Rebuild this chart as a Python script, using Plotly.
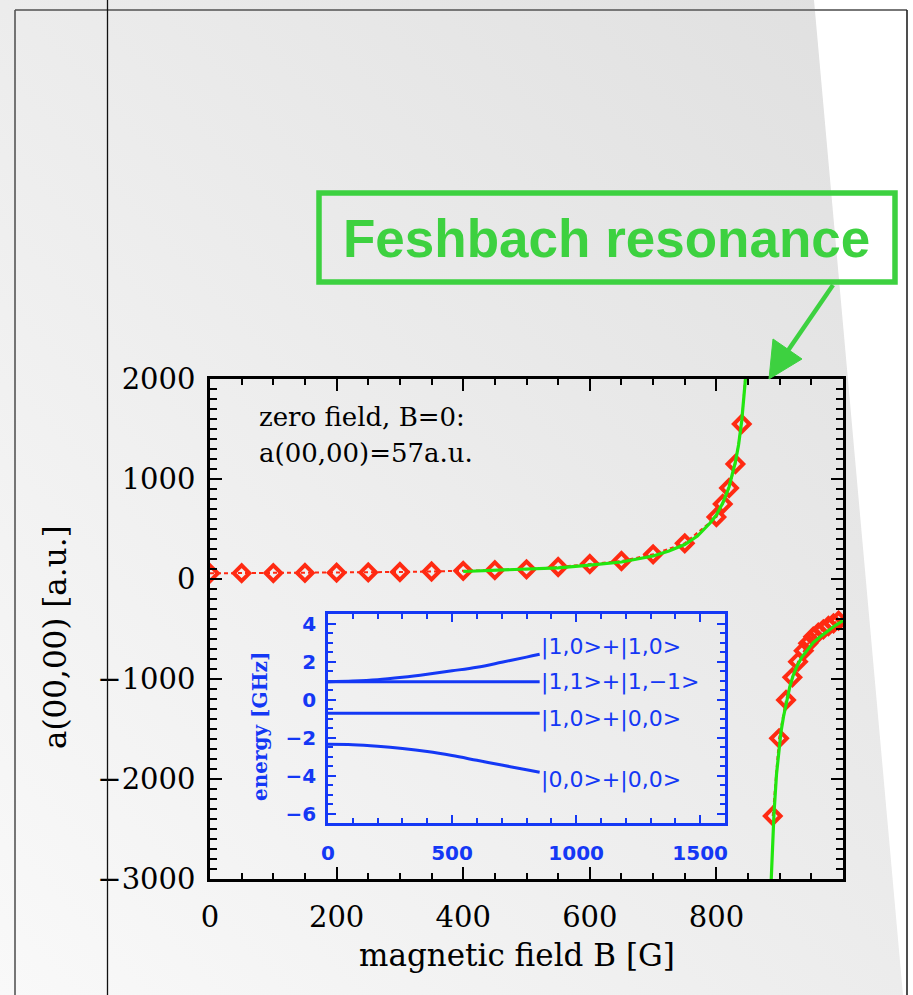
import base64
import plotly.graph_objects as go

W, H = 913, 995

# ---- scattering length a(00,00) vs magnetic field (coupled-channel points) ----
b_calc = [0, 50, 100, 150, 200, 250, 300, 350, 400, 450, 500, 550, 600, 650, 700,
          750, 800, 810, 820, 830, 840, 850, None,
          889, 899, 910, 920, 929, 938, 945, 953, 961, 969, 977, 985, 993]
a_calc = [57, 58, 59, 61, 63, 66, 70, 75, 82, 88, 97, 120, 150, 180, 247,
          357, 620, 750, 910, 1150, 1550, 2400, None,
          -2370, -1593, -1210, -983, -827, -717, -643, -577, -537, -503, -470, -443, -417]

# ---- resonance fit (both branches) ----
b_fit = [400, 450, 500, 550, 600, 650, 700, 725, 750, 770, 790, 800, 810, 820, 830,
         835, 840, 845, 848, None,
         886, 888, 891, 895, 898, 902, 906, 911, 916, 921, 927, 935, 943, 953, 964,
         975, 985, 1000]
a_fit = [75, 85, 95, 112, 138, 170, 230, 280, 345, 430, 560, 640, 760, 920, 1170,
         1340, 1580, 1900, 2150, None,
         -3100, -2700, -2343, -1950, -1743, -1530, -1377, -1210, -1077, -970, -877,
         -780, -710, -635, -577, -520, -477, -417]

# ---- inset: two-atom channel energies [GHz] vs B ----
b_levels = [0, 100, 200, 300, 400, 500, 600, 700, 800, 853]
e_10_10 = [0.94, 0.97, 1.04, 1.17, 1.33, 1.51, 1.70, 1.96, 2.23, 2.38]
e_11_1m1 = [0.94] * 10
e_10_00 = [-0.73] * 10
e_00_00 = [-2.36, -2.38, -2.46, -2.58, -2.74, -2.95, -3.20, -3.45, -3.70, -3.83]
level_names = ["|1,0>+|1,0>", "|1,1>+|1,−1>", "|1,0>+|0,0>", "|0,0>+|0,0>"]
level_label_y = [2.78, 0.9, -1.0, -4.25]

x_ticks = [0, 200, 400, 600, 800]
y_ticks = [-3000, -2000, -1000, 0, 1000, 2000]
inset_x_ticks = [0, 500, 1000, 1500]
inset_y_ticks = [-6, -4, -2, 0, 2, 4]

RED = "#ff2a12"
FIT = "#22e60f"
BLUE = "#1438f5"
GREEN = "#3dd140"
SERIF = "DejaVu Serif"


def px(x):
    return x / W


def py(y):
    return 1 - y / H


fig = go.Figure()

fig.add_trace(go.Scatter(
    x=b_calc, y=a_calc, mode="lines+markers", connectgaps=False,
    line=dict(color=RED, width=2, dash="4px,3px"),
    marker=dict(symbol="diamond-open", size=12, color=RED, line=dict(color=RED, width=4)),
    cliponaxis=True, xaxis="x", yaxis="y", showlegend=False))

fig.add_trace(go.Scatter(
    x=b_fit, y=a_fit, mode="lines", connectgaps=False,
    line=dict(color=FIT, width=3.2), xaxis="x", yaxis="y", showlegend=False))

for e in (e_10_10, e_11_1m1, e_10_00, e_00_00):
    fig.add_trace(go.Scatter(
        x=b_levels, y=e, mode="lines", line=dict(color=BLUE, width=3, shape="spline"),
        xaxis="x2", yaxis="y2", showlegend=False))

# page backdrop: soft diagonal grey with a white wedge on the right
svg = (
    f"<svg xmlns='http://www.w3.org/2000/svg' width='{W}' height='{H}' viewBox='0 0 {W} {H}' preserveAspectRatio='none'>"
    "<defs><linearGradient id='g' x1='1' y1='0' x2='0' y2='1'>"
    "<stop offset='0' stop-color='#dfdfdf'/><stop offset='1' stop-color='#f9f9f9'/>"
    "</linearGradient></defs>"
    f"<rect width='{W}' height='{H}' fill='url(#g)'/>"
    f"<polygon points='814,0 {W},0 {W},{H} 903,{H}' fill='#ffffff'/>"
    "</svg>"
)
bg_src = "data:image/svg+xml;base64," + base64.b64encode(svg.encode()).decode()

axis_common = dict(showline=True, linecolor="black", linewidth=2.5, mirror="ticks",
                   ticks="inside", tickcolor="black", tickwidth=2, ticklen=12,
                   showgrid=False, zeroline=False, automargin=False,
                   tickfont=dict(family=SERIF, size=29, color="black"))

inset_common = dict(showline=True, linecolor=BLUE, linewidth=2.5, mirror="ticks",
                    ticks="inside", tickcolor=BLUE, tickwidth=2, ticklen=8,
                    showgrid=False, zeroline=False, automargin=False,
                    tickfont=dict(family="DejaVu Sans", size=20, color=BLUE, weight="bold"))

fig.update_layout(
    width=W, height=H, margin=dict(l=0, r=0, t=0, b=0, pad=0, autoexpand=False),
    paper_bgcolor="white", plot_bgcolor="rgba(0,0,0,0)",
    images=[dict(source=bg_src, xref="paper", yref="paper", x=0, y=1, sizex=1, sizey=1,
                 xanchor="left", yanchor="top", sizing="stretch", layer="below")],
    xaxis=dict(domain=[px(210), px(843)], range=[0, 1000], tickmode="array",
               tickvals=x_ticks, ticklabelstandoff=10,
               minor=dict(ticks="inside", dtick=50, tick0=0, ticklen=6, tickwidth=1.5,
                          tickcolor="black"),
               anchor="y", **axis_common),
    yaxis=dict(domain=[py(879), py(379)], range=[-3000, 2000], tickmode="array",
               tickvals=y_ticks, ticklabelstandoff=6,
               minor=dict(ticks="inside", dtick=100, tick0=0, ticklen=7, tickwidth=1.5,
                          tickcolor="black"),
               anchor="x", **axis_common),
    xaxis2=dict(domain=[px(328), px(725)], range=[0, 1600], tickmode="array",
                tickvals=inset_x_ticks, ticklabelstandoff=10,
                minor=dict(ticks="inside", dtick=100, tick0=0, ticklen=5, tickwidth=1.5,
                           tickcolor=BLUE),
                anchor="y2", **inset_common),
    yaxis2=dict(domain=[py(823), py(614)], range=[-6.5, 4.5], tickmode="array",
                tickvals=inset_y_ticks, ticklabelstandoff=5,
                minor=dict(ticks="inside", dtick=0.5, tick0=0, ticklen=5, tickwidth=1.5,
                           tickcolor=BLUE),
                anchor="x2", **inset_common),
)

# frame lines of the page
frame = [
    ((15, 10), (907, 10), "#777777", 2.2),
    ((15, 10), (15, H), "#555555", 1.6),
    ((107.5, 0), (107.5, H), "#111111", 1.3),
    ((907, 10), (907, H), "#222222", 1.6),
]
for (x0, y0), (x1, y1), c, w in frame:
    fig.add_shape(type="line", xref="paper", yref="paper",
                  x0=px(x0), y0=py(y0), x1=px(x1), y1=py(y1),
                  line=dict(color=c, width=w), layer="above")

# callout box with arrow toward the resonance
fig.add_shape(type="rect", xref="paper", yref="paper",
              x0=px(319), y0=py(193), x1=px(895), y1=py(282),
              line=dict(color=GREEN, width=5.5), fillcolor="rgba(0,0,0,0)")
fig.add_shape(type="line", xref="paper", yref="paper",
              x0=px(833), y0=py(285), x1=px(787), y1=py(352),
              line=dict(color=GREEN, width=4.5))
tri = [(769, 379), (773, 339), (802, 359)]
path = "M " + " L ".join(f"{px(a):.5f},{py(b):.5f}" for a, b in tri) + " Z"
fig.add_shape(type="path", xref="paper", yref="paper", path=path,
              fillcolor=GREEN, line=dict(color=GREEN, width=1))

annotations = [
    dict(text="Feshbach resonance", x=px(606), y=py(238), xanchor="center", yanchor="middle",
         font=dict(family="Liberation Sans", size=53, color=GREEN, weight="bold")),
    dict(text="zero field, B=0:", x=px(257), y=py(417), xanchor="left", yanchor="middle",
         font=dict(family=SERIF, size=26, color="black")),
    dict(text="a(00,00)=57a.u.", x=px(257), y=py(453), xanchor="left", yanchor="middle",
         font=dict(family=SERIF, size=26, color="black")),
    dict(text="magnetic field B [G]", x=px(517), y=py(955), xanchor="center", yanchor="middle",
         font=dict(family=SERIF, size=31, color="black")),
    dict(text="a(00,00) [a.u.]", x=px(55), y=py(637), xanchor="center", yanchor="middle",
         textangle=-90, font=dict(family=SERIF, size=31, color="black")),
    dict(text="energy [GHz]", x=px(260), y=py(727), xanchor="center", yanchor="middle",
         textangle=-90, font=dict(family=SERIF, size=20, color=BLUE, weight="bold")),
]
for name, yl in zip(level_names, level_label_y):
    annotations.append(dict(text=name, x=852, y=yl, xref="x2", yref="y2",
                            xanchor="left", yanchor="middle",
                            font=dict(family="DejaVu Sans", size=22, color=BLUE)))
for a in annotations:
    a.setdefault("xref", "paper")
    a.setdefault("yref", "paper")
    a["showarrow"] = False
fig.update_layout(annotations=annotations)

fig.write_html("out.html")
